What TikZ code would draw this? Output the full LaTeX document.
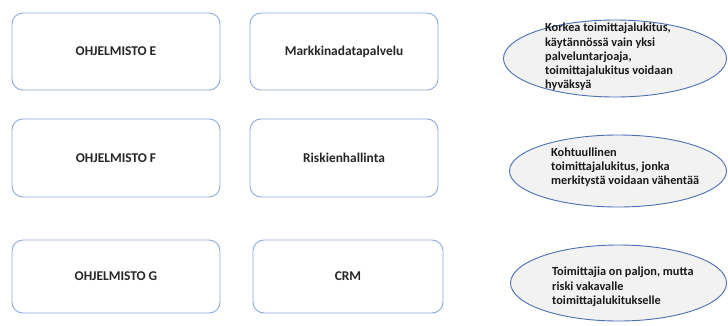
\documentclass[tikz,border=0pt]{standalone}
\usepackage{fontspec}
\setmainfont{Carlito}
\usetikzlibrary{shapes.geometric}

\definecolor{boxline}{HTML}{8EA9DB}
\definecolor{ovalline}{HTML}{4A6FB5}
\definecolor{ovalfill}{HTML}{F2F2F2}

\tikzset{
  softbox/.style={shape=rectangle, draw=boxline, line width=0.9pt, rounded corners=11pt,
    fill=white, font=\fontsize{13.4}{16}\selectfont\bfseries, text=black!85},
  oval/.style={shape=ellipse, draw=ovalline, line width=0.9pt, fill=ovalfill, inner sep=0pt},
  ovaltext/.style={align=left, inner sep=0pt, anchor=west,
    font=\fontsize{12.3}{14.3}\selectfont\bfseries, text=black!90}
}

\begin{document}
\begin{tikzpicture}[x=1pt, y=-1pt]
  \useasboundingbox (0,0) rectangle (728,325);

  % software boxes
  \node[softbox, minimum width=208pt, minimum height=77pt] (ohjE) at (116,51.5) {OHJELMISTO E};
  \node[softbox, minimum width=208pt, minimum height=78pt] (ohjF) at (116,158) {OHJELMISTO F};
  \node[softbox, minimum width=208pt, minimum height=73pt] (ohjG) at (116,276.5) {OHJELMISTO G};

  % service boxes
  \node[softbox, minimum width=188pt, minimum height=77pt] (markk) at (344,51.5) {Markkinadatapalvelu};
  \node[softbox, minimum width=188pt, minimum height=78pt] (riski) at (344,158) {Riskienhallinta};
  \node[softbox, minimum width=190pt, minimum height=73pt] (crm) at (348,276.5) {CRM};

  % lock-in ovals
  \node[oval, minimum width=223pt, minimum height=77pt] (lukE) at (615,58.5) {};
  \node[oval, minimum width=217pt, minimum height=72pt] (lukF) at (618,171) {};
  \node[oval, minimum width=216pt, minimum height=76pt] (lukG) at (618.5,283) {};

  \node[ovaltext] (tE) at (545,57) {Korkea toimittajalukitus,\\k\"ayt\"ann\"oss\"a vain yksi\\palveluntarjoaja,\\toimittajalukitus voidaan\\hyv\"aksy\"a};
  \node[ovaltext] (tF) at (551,167) {Kohtuullinen\\toimittajalukitus, jonka\\merkityst\"a voidaan v\"ahent\"a\"a};
  \node[ovaltext] (tG) at (552,287) {Toimittajia on paljon, mutta\\riski vakavalle\\toimittajalukitukselle};
\end{tikzpicture}
\end{document}
